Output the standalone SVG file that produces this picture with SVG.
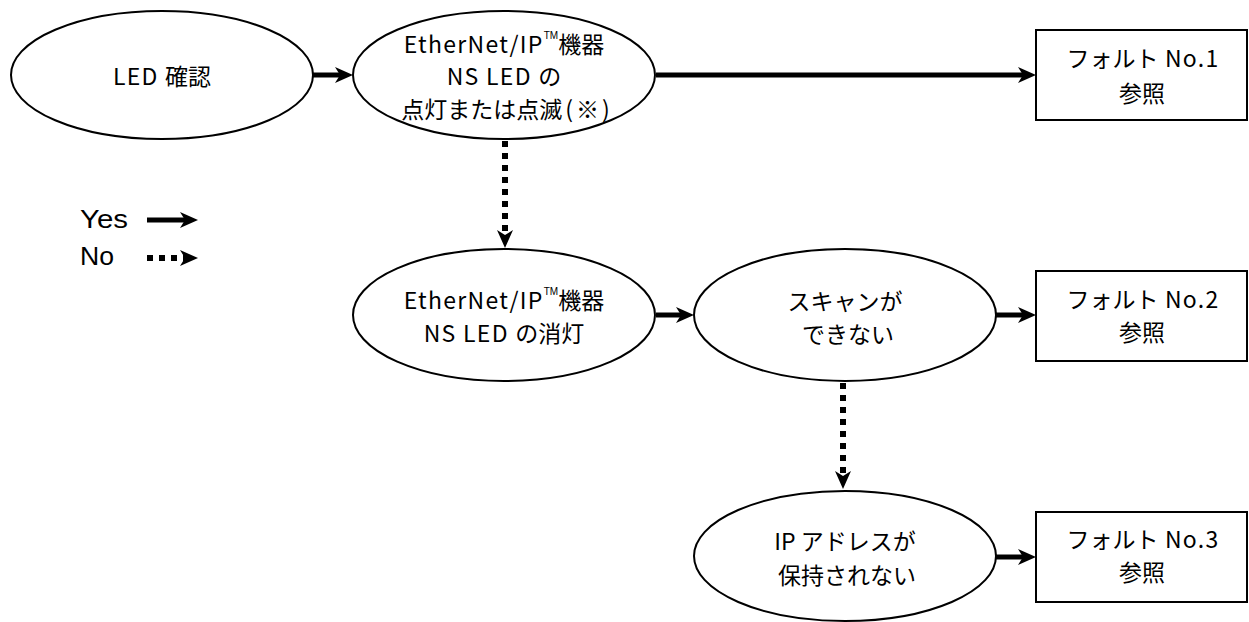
<svg xmlns="http://www.w3.org/2000/svg" width="1249" height="622" viewBox="0 0 1249 622">
  <style>
    .shape { fill: #ffffff; stroke: #000000; stroke-width: 2; }
    .lbl { font-family: "Noto Sans CJK JP", "Liberation Sans", sans-serif; font-size: 23px; fill: #000000; text-anchor: middle; dominant-baseline: central; }
    .m { letter-spacing: 1.3px; }
    .p { letter-spacing: 3px; }
    .tm { font-family: "Liberation Sans", sans-serif; font-size: 10px; letter-spacing: 0; }
    .legend { font-family: "Liberation Sans", Arial, sans-serif; font-size: 25px; fill: #000000; }
    .yes { fill: none; stroke: #000000; stroke-width: 5; marker-end: url(#head); }
    .no { fill: none; stroke: #000000; stroke-width: 6; stroke-dasharray: 6 6; marker-end: url(#head); }
  </style>
  <defs>
    <marker id="head" viewBox="0 0 18 16" markerUnits="userSpaceOnUse" markerWidth="18" markerHeight="16" refX="8" refY="8" orient="auto">
      <path d="M0,0 L18,8 L0,16 L5,8 z" fill="#000000"/>
    </marker>
  </defs>

  <!-- connectors: line ends 10px short of the tip, the head covers the rest -->
  <g id="connectors">
    <line class="yes" x1="313" y1="75" x2="343" y2="75"/>
    <line class="yes" x1="656" y1="75" x2="1026" y2="75"/>
    <line class="no" x1="505" y1="141" x2="505" y2="238"/>
    <line class="yes" x1="656" y1="315" x2="684" y2="315"/>
    <line class="yes" x1="996" y1="315" x2="1026" y2="315"/>
    <line class="no" x1="843" y1="383" x2="843" y2="479"/>
    <line class="yes" x1="996" y1="557" x2="1026" y2="557"/>
  </g>

  <g id="legend">
    <text class="legend" x="80" y="228" textLength="48" lengthAdjust="spacingAndGlyphs">Yes</text>
    <text class="legend" x="80" y="265" textLength="34" lengthAdjust="spacingAndGlyphs">No</text>
    <line class="yes" x1="147" y1="220" x2="188" y2="220"/>
    <line class="no" x1="147" y1="258" x2="188" y2="258" stroke-dasharray="6 5"/>
  </g>

  <g id="led-check">
    <ellipse class="shape" cx="162" cy="75" rx="151" ry="64"/>
    <text class="lbl" x="162" y="75"><tspan class="m">LED </tspan>確認</text>
  </g>

  <g id="ns-led-on">
    <ellipse class="shape" cx="504" cy="75" rx="151" ry="64"/>
    <text class="lbl" x="504" y="43"><tspan class="m">EtherNet/IP</tspan><tspan class="tm" dy="-8">TM</tspan><tspan dy="8">機器</tspan></text>
    <text class="lbl" x="504" y="75"><tspan class="m">NS LED </tspan>の</text>
    <text class="lbl" x="507" y="108">点灯または点滅<tspan class="p" dx="3">(※)</tspan></text>
  </g>

  <g id="fault-1">
    <rect class="shape" x="1036" y="30" width="211" height="90"/>
    <text class="lbl" x="1143" y="57">フォルト<tspan class="m"> No.1</tspan></text>
    <text class="lbl" x="1142" y="92">参照</text>
  </g>

  <g id="ns-led-off">
    <ellipse class="shape" cx="504" cy="315" rx="151" ry="66"/>
    <text class="lbl" x="504" y="299"><tspan class="m">EtherNet/IP</tspan><tspan class="tm" dy="-8">TM</tspan><tspan dy="8">機器</tspan></text>
    <text class="lbl" x="504" y="332"><tspan class="m">NS LED </tspan>の消灯</text>
  </g>

  <g id="no-scan">
    <ellipse class="shape" cx="845" cy="315" rx="151" ry="66"/>
    <text class="lbl" x="845" y="300">スキャンが</text>
    <text class="lbl" x="848" y="333">できない</text>
  </g>

  <g id="fault-2">
    <rect class="shape" x="1036" y="271" width="211" height="90"/>
    <text class="lbl" x="1143" y="298">フォルト<tspan class="m"> No.2</tspan></text>
    <text class="lbl" x="1142" y="331">参照</text>
  </g>

  <g id="ip-not-kept">
    <ellipse class="shape" cx="845" cy="556" rx="151" ry="65"/>
    <text class="lbl" x="845" y="540">IP アドレスが</text>
    <text class="lbl" x="847" y="574">保持されない</text>
  </g>

  <g id="fault-3">
    <rect class="shape" x="1036" y="512" width="211" height="90"/>
    <text class="lbl" x="1143" y="538">フォルト<tspan class="m"> No.3</tspan></text>
    <text class="lbl" x="1142" y="571">参照</text>
  </g>
</svg>
